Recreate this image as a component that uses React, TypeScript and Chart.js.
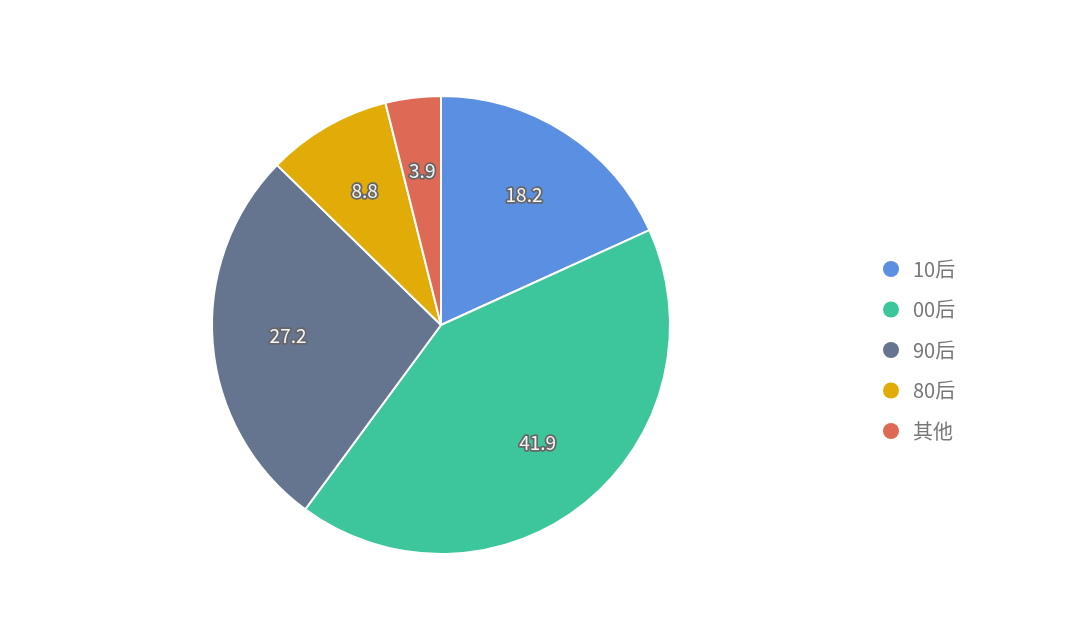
import React, { useEffect, useRef } from 'react';
import { Chart, registerables } from 'chart.js';

Chart.register(...registerables);

const labels = ['10后', '00后', '90后', '80后', '其他'];
const values = [18.2, 41.9, 27.2, 8.8, 3.9];
const colors = ['#5b8fe2', '#3dc69c', '#66758f', '#e1ab08', '#de6a55'];

const FONT = '"Noto Sans CJK SC", "Noto Sans", sans-serif';

// value labels inside the slices, white with a grey outline
const sliceLabels = {
  id: 'sliceLabels',
  afterDatasetsDraw(chart: Chart) {
    const ctx = chart.ctx;
    const meta = chart.getDatasetMeta(0);
    ctx.save();
    ctx.font = `19px ${FONT}`;
    ctx.textAlign = 'center';
    ctx.textBaseline = 'middle';
    ctx.lineJoin = 'round';
    meta.data.forEach((arc: any, i: number) => {
      const { x, y, startAngle, endAngle, outerRadius } = arc.getProps(
        ['x', 'y', 'startAngle', 'endAngle', 'outerRadius'],
        true
      );
      const mid = (startAngle + endAngle) / 2;
      const r = outerRadius * 0.67;
      const lx = x + Math.cos(mid) * r;
      const ly = y + Math.sin(mid) * r - 1.5;
      const text = String(values[i]);
      ctx.strokeStyle = '#666666';
      ctx.lineWidth = 3.5;
      ctx.strokeText(text, lx, ly);
      ctx.fillStyle = '#f4f4f4';
      ctx.fillText(text, lx, ly);
    });
    ctx.restore();
  },
};

// legend column on the right
const sideLegend = {
  id: 'sideLegend',
  afterDraw(chart: Chart) {
    const ctx = chart.ctx;
    ctx.save();
    ctx.font = `20px ${FONT}`;
    ctx.textBaseline = 'middle';
    ctx.textAlign = 'left';
    labels.forEach((lab, i) => {
      const y = 269 + i * 40.5;
      ctx.beginPath();
      ctx.arc(891, y, 8, 0, Math.PI * 2);
      ctx.fillStyle = colors[i];
      ctx.fill();
      ctx.fillStyle = '#777777';
      ctx.fillText(lab, 913, y);
    });
    ctx.restore();
  },
};

export default function App() {
  const canvasRef = useRef<HTMLCanvasElement>(null);
  const chartRef = useRef<Chart | null>(null);

  useEffect(() => {
    document.body.style.margin = '0';
    if (!canvasRef.current) return;
    chartRef.current?.destroy();

    chartRef.current = new Chart(canvasRef.current, {
      type: 'pie',
      data: {
        labels,
        datasets: [
          {
            data: values,
            backgroundColor: colors,
            borderColor: '#ffffff',
            borderWidth: 2,
          },
        ],
      },
      options: {
        animation: false,
        responsive: false,
        maintainAspectRatio: false,
        layout: { padding: { left: 211, right: 409, top: 95, bottom: 72 } },
        plugins: {
          legend: { display: false },
          tooltip: { enabled: false },
        },
      },
      plugins: [sliceLabels, sideLegend],
    });

    return () => {
      chartRef.current?.destroy();
      chartRef.current = null;
    };
  }, []);

  return (
    <div style={{ width: 1080, height: 627, background: '#fff' }}>
      <canvas ref={canvasRef} width={1080} height={627} />
    </div>
  );
}
